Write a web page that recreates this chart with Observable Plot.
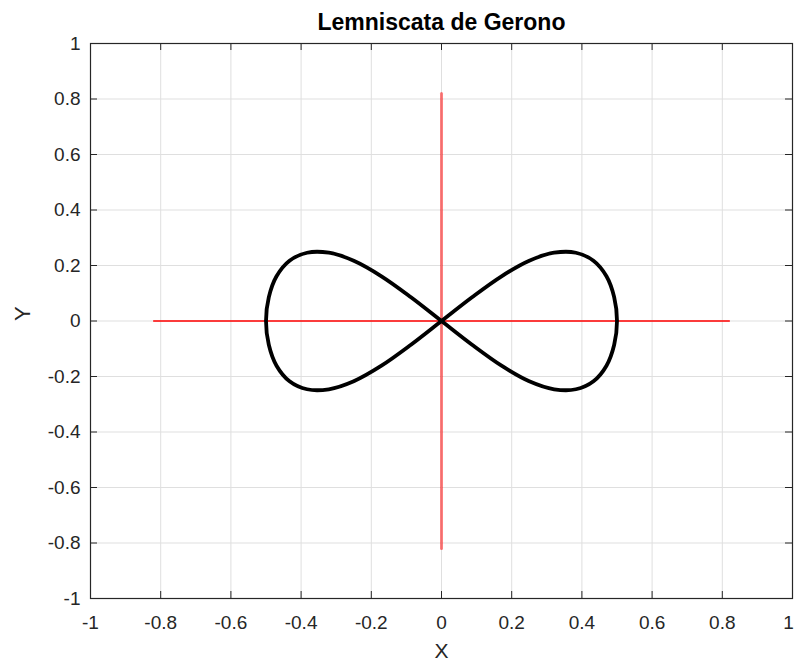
<!DOCTYPE html>
<html>
<head>
<meta charset="utf-8">
<script src="https://cdn.jsdelivr.net/npm/d3@7"></script>
<script src="https://cdn.jsdelivr.net/npm/@observablehq/plot@0.6"></script>
<style>
  html, body { margin: 0; padding: 0; background: #fff; }
  #chart svg { display: block; }
</style>
</head>
<body>
<div id="chart"></div>
<script>
// Lemniscate of Gerono, sampled every 10° along the parameter
const curveX = [0.5, 0.492, 0.470, 0.433, 0.383, 0.321, 0.25, 0.171, 0.087, 0,
  -0.087, -0.171, -0.25, -0.321, -0.383, -0.433, -0.470, -0.492, -0.5,
  -0.492, -0.470, -0.433, -0.383, -0.321, -0.25, -0.171, -0.087, 0,
  0.087, 0.171, 0.25, 0.321, 0.383, 0.433, 0.470, 0.492];
const curveY = [0, 0.0855, 0.161, 0.217, 0.246, 0.246, 0.217, 0.161, 0.0855, 0,
  -0.0855, -0.161, -0.217, -0.246, -0.246, -0.217, -0.161, -0.0855, 0,
  0.0855, 0.161, 0.217, 0.246, 0.246, 0.217, 0.161, 0.0855, 0,
  -0.0855, -0.161, -0.217, -0.246, -0.246, -0.217, -0.161, -0.0855];

// Red reference axes through the origin
const axisExtent = [-0.82, 0.82];

// Tick values
const xTicks = [-1, -0.8, -0.6, -0.4, -0.2, 0, 0.2, 0.4, 0.6, 0.8, 1];
const yTicks = [-1, -0.8, -0.6, -0.4, -0.2, 0, 0.2, 0.4, 0.6, 0.8, 1];

const titleText = "Lemniscata de Gerono";
const xLabel = "X";
const yLabel = "Y";

const curve = curveX.map((x, i) => ({x, y: curveY[i]}));
const hLine = axisExtent.map(x => ({x, y: 0}));
const vLine = axisExtent.map(y => ({x: 0, y}));

const W = 794, H = 664;
const mL = 90, mR = 2, mT = 43, mB = 66;
const plotW = W - mL - mR, plotH = H - mT - mB;
const tickLen = 7;
const font = "'Liberation Sans', Arial, Helvetica, sans-serif";
const axisColor = "#262626";
const gridColor = "#dfdfdf";
const fmt = d => String(d);

// the last x tick label sits at the window edge; nudge it inward so it stays whole
const xInner = xTicks.slice(0, -1);
const xLast = xTicks.slice(-1);

const chart = Plot.plot({
  width: W,
  height: H,
  marginLeft: mL,
  marginRight: mR,
  marginTop: mT,
  marginBottom: mB,
  style: {fontFamily: font, color: axisColor, background: "#fff"},
  x: {domain: [-1, 1]},
  y: {domain: [-1, 1]},
  marks: [
    // grid
    Plot.ruleX(xTicks, {x: d => d, stroke: gridColor, strokeWidth: 1}),
    Plot.ruleY(yTicks, {y: d => d, stroke: gridColor, strokeWidth: 1}),
    // inward ticks on all four sides
    Plot.tickX(xTicks, {x: d => d, insetTop: plotH - tickLen, stroke: axisColor}),
    Plot.tickX(xTicks, {x: d => d, insetBottom: plotH - tickLen, stroke: axisColor}),
    Plot.tickY(yTicks, {y: d => d, insetRight: plotW - tickLen, stroke: axisColor}),
    Plot.tickY(yTicks, {y: d => d, insetLeft: plotW - tickLen, stroke: axisColor}),
    // tick labels
    Plot.axisX(xInner, {tickSize: 0, tickPadding: 17, fontSize: 19, tickFormat: fmt, label: null, fill: axisColor}),
    Plot.axisX(xLast, {tickSize: 0, tickPadding: 17, fontSize: 19, tickFormat: fmt, label: null, fill: axisColor, dx: -4}),
    Plot.axisY(yTicks, {tickSize: 0, tickPadding: 10, fontSize: 19, tickFormat: fmt, label: null, fill: axisColor}),
    // box
    Plot.frame({stroke: axisColor, strokeWidth: 1.2}),
    // red reference axes
    Plot.line(hLine, {x: "x", y: "y", stroke: "#ff0000", strokeWidth: 1.5}),
    Plot.line(vLine, {x: "x", y: "y", stroke: "#ff0000", strokeOpacity: 0.5, strokeWidth: 3}),
    // the lemniscate
    Plot.line(curve, {x: "x", y: "y", curve: "catmull-rom-closed", stroke: "#000", strokeWidth: 3.8}),
    // title and axis labels
    Plot.text([titleText], {frameAnchor: "top", dy: -21, text: d => d, fontSize: 23, fontWeight: "bold", fill: "#000", lineAnchor: "middle"}),
    Plot.text([xLabel], {frameAnchor: "bottom", dy: 53, text: d => d, fontSize: 21, fill: axisColor, lineAnchor: "middle"}),
    Plot.text([yLabel], {frameAnchor: "left", dx: -68, text: d => d, fontSize: 22, fill: axisColor, rotate: -90, lineAnchor: "middle"})
  ]
});

document.getElementById("chart").appendChild(chart);
</script>
</body>
</html>
